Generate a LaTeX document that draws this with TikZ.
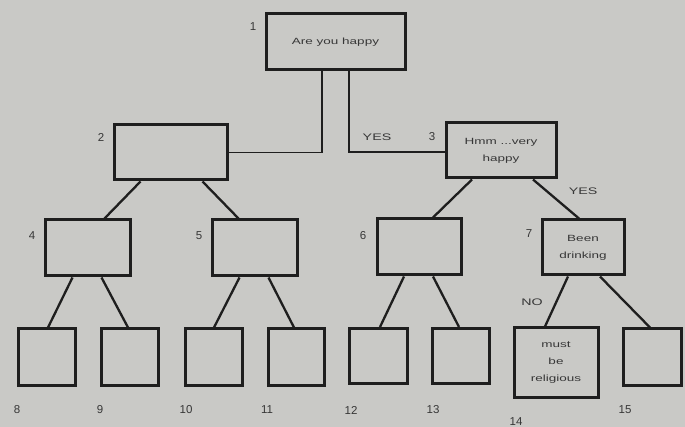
\documentclass[tikz,border=0pt]{standalone}
\usepackage{fontspec}
\setmainfont{Liberation Sans}
\newfontfamily\boxfont[FakeStretch=1.5]{Liberation Sans}
\definecolor{bgc}{RGB}{201,201,198}
\definecolor{ink}{RGB}{30,30,30}
\definecolor{txt}{RGB}{55,55,55}
\begin{document}
\begin{tikzpicture}[x=1pt,y=-1pt,
  box/.style={draw=ink,line width=3pt,minimum width=#1,inner sep=1pt,align=center,font=\boxfont\fontsize{9}{17}\selectfont,text=txt},
  num/.style={font=\fontsize{11.5}{12}\selectfont,text=txt,inner sep=0pt},
  tag/.style={font=\boxfont\fontsize{9.5}{10}\selectfont,text=txt,inner sep=0pt},
  conn/.style={draw=ink,line width=2.3pt},
  elbow/.style={draw=ink,line width=1.5pt}]
\fill[bgc] (0,0) rectangle (685,427);
\useasboundingbox (0,0) rectangle (685,427);
% boxes
\node[box=139pt,minimum height=56pt] (n1) at (335.5,42) {Are you happy};
\node[box=113pt,minimum height=55pt] (n2) at (170.5,152.5) {};
\node[box=110pt,minimum height=55pt] (n3) at (501,150.5) {Hmm ...very\\happy};
\node[box=85pt,minimum height=56pt] (n4) at (87.5,248) {};
\node[box=85pt,minimum height=56pt] (n5) at (254.5,248) {};
\node[box=84pt,minimum height=56pt] (n6) at (419,247) {};
\node[box=82pt,minimum height=55pt] (n7) at (583,247.5) {Been\\drinking};
\node[box=57pt,minimum height=56pt] (n8) at (46.5,357) {};
\node[box=57pt,minimum height=56pt] (n9) at (129.5,357) {};
\node[box=57pt,minimum height=56pt] (n10) at (213.5,357) {};
\node[box=56pt,minimum height=56pt] (n11) at (296,357) {};
\node[box=58pt,minimum height=55pt] (n12) at (378,356) {};
\node[box=57pt,minimum height=55pt] (n13) at (460.5,356) {};
\node[box=84pt,minimum height=69pt] (n14) at (556,362.5) {must\\be\\religious};
\node[box=58pt,minimum height=56pt] (n15) at (652,357) {};
% elbow connectors
\draw[elbow] ([xshift=-13.5pt]n1.south) |- (n2.east);
\draw[elbow] ([xshift=13.5pt]n1.south) |- ([yshift=-1.5pt]n3.west);
% tree connectors
\draw[conn] ([xshift=-30pt]n2.south) -- ([xshift=17pt]n4.north);
\draw[conn] ([xshift=32pt]n2.south) -- ([xshift=-16pt]n5.north);
\draw[conn] ([xshift=-15pt]n4.south) -- ([xshift=1.5pt]n8.north);
\draw[conn] ([xshift=14pt]n4.south) -- ([xshift=-1.5pt]n9.north);
\draw[conn] ([xshift=-15pt]n5.south) -- ([xshift=0.5pt]n10.north);
\draw[conn] ([xshift=14pt]n5.south) -- ([xshift=-2pt]n11.north);
\draw[conn] ([xshift=-29pt]n3.south) -- ([xshift=14pt]n6.north);
\draw[conn] ([xshift=32pt]n3.south) -- ([xshift=-4pt]n7.north);
\draw[conn] ([xshift=-15pt]n6.south) -- ([xshift=2pt]n12.north);
\draw[conn] ([xshift=14pt]n6.south) -- ([xshift=-1.5pt]n13.north);
\draw[conn] ([xshift=-15pt]n7.south) -- ([xshift=-11pt]n14.north);
\draw[conn] ([xshift=17pt]n7.south) -- ([xshift=-2pt]n15.north);
% labels
\node[num] (l1) at (253,27) {1};
\node[num] (l2) at (101,137) {2};
\node[num] (l3) at (432,137) {3};
\node[num] (l4) at (32,236) {4};
\node[num] (l5) at (199,236) {5};
\node[num] (l6) at (363,236) {6};
\node[num] (l7) at (529,234) {7};
\node[num] (l8) at (17,410) {8};
\node[num] (l9) at (100,410) {9};
\node[num] (l10) at (186,410) {10};
\node[num] (l11) at (267,410) {11};
\node[num] (l12) at (351,410) {12};
\node[num] (l13) at (433,410) {13};
\node[num] (l14) at (516,422) {14};
\node[num] (l15) at (625,410) {15};
\node[tag] (y1) at (377,137) {YES};
\node[tag] (y2) at (583,191) {YES};
\node[tag] (no) at (532,302) {NO};
\end{tikzpicture}
\end{document}
